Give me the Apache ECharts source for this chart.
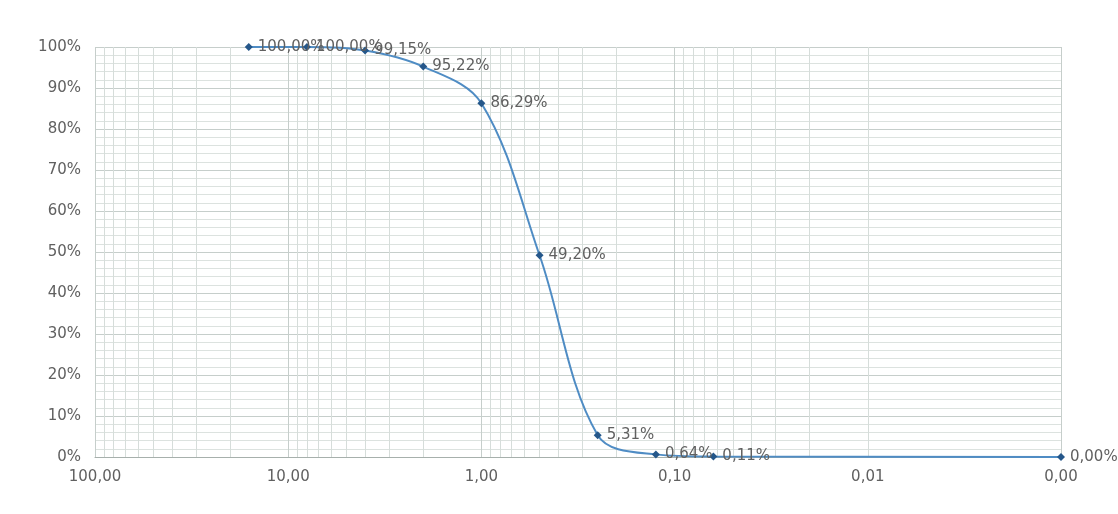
<!DOCTYPE html>
<html><head><meta charset="utf-8">
<script src="https://cdn.jsdelivr.net/npm/echarts@6/dist/echarts.min.js"></script>
<style>html,body{margin:0;padding:0;background:#fff}#c{width:1118px;height:514px}</style>
</head><body><div id="c"></div>
<script>
// sieve sizes (mm) and cumulative passing (%)
const sizes = [16, 8, 4, 2, 1, 0.5, 0.25, 0.125, 0.063, 0.001];
const passing = [100.00, 100.00, 99.15, 95.22, 86.29, 49.20, 5.31, 0.64, 0.11, 0.00];
const yTicks = [0, 10, 20, 30, 40, 50, 60, 70, 80, 90, 100];
const decades = [0.001, 0.01, 0.1, 1, 10];
const minorMultipliers = [2, 3, 4, 5, 6, 7, 8, 9];

const minorLines = [];
decades.forEach(d => minorMultipliers.forEach(m => minorLines.push({xAxis: +(d * m).toPrecision(3)})));

const fmtComma = (v, n) => v.toFixed(n).replace('.', ',');

const chart = echarts.init(document.getElementById('c'), null, {renderer: 'canvas'});
chart.setOption({
  animation: false,
  backgroundColor: '#fff',
  textStyle: {fontFamily: 'DejaVu Sans, sans-serif'},
  grid: {left: 95, right: 57, top: 47, bottom: 57},
  xAxis: {
    type: 'log', logBase: 10, inverse: true, min: 0.001, max: 100,
    axisLine: {show: true, lineStyle: {color: '#a7b0ac', width: 1}},
    axisTick: {show: false},
    axisLabel: {color: '#606060', fontSize: 15, margin: 13, formatter: v => fmtComma(v, 2)},
    splitLine: {show: true, lineStyle: {color: '#c6cecb', width: 1}}
  },
  yAxis: {
    type: 'value', min: 0, max: 100, interval: 10,
    axisLine: {show: false}, axisTick: {show: false},
    axisLabel: {color: '#606060', fontSize: 15, margin: 14, formatter: v => v + '%'},
    splitLine: {show: true, lineStyle: {color: '#c6cecb', width: 1}},
    minorTick: {show: false, splitNumber: 5},
    minorSplitLine: {show: true, lineStyle: {color: '#dce2df', width: 1}}
  },
  series: [
    {
      type: 'line', data: [], silent: true,
      markLine: {
        silent: true, symbol: ['none', 'none'], animation: false,
        label: {show: false},
        lineStyle: {color: '#d6ddda', width: 1, type: 'solid'},
        data: minorLines
      }
    },
    {
      type: 'line',
      data: sizes.map((s, i) => [s, passing[i]]),
      smooth: 0.35,
      symbol: 'diamond', symbolSize: 8,
      lineStyle: {color: '#4f8cc4', width: 2},
      itemStyle: {color: '#25578a'},
      label: {
        show: true, position: 'right', distance: 5,
        color: '#606060', fontSize: 15,
        formatter: p => fmtComma(p.value[1], 2) + '%'
      },
      z: 5
    }
  ]
});
</script></body></html>
